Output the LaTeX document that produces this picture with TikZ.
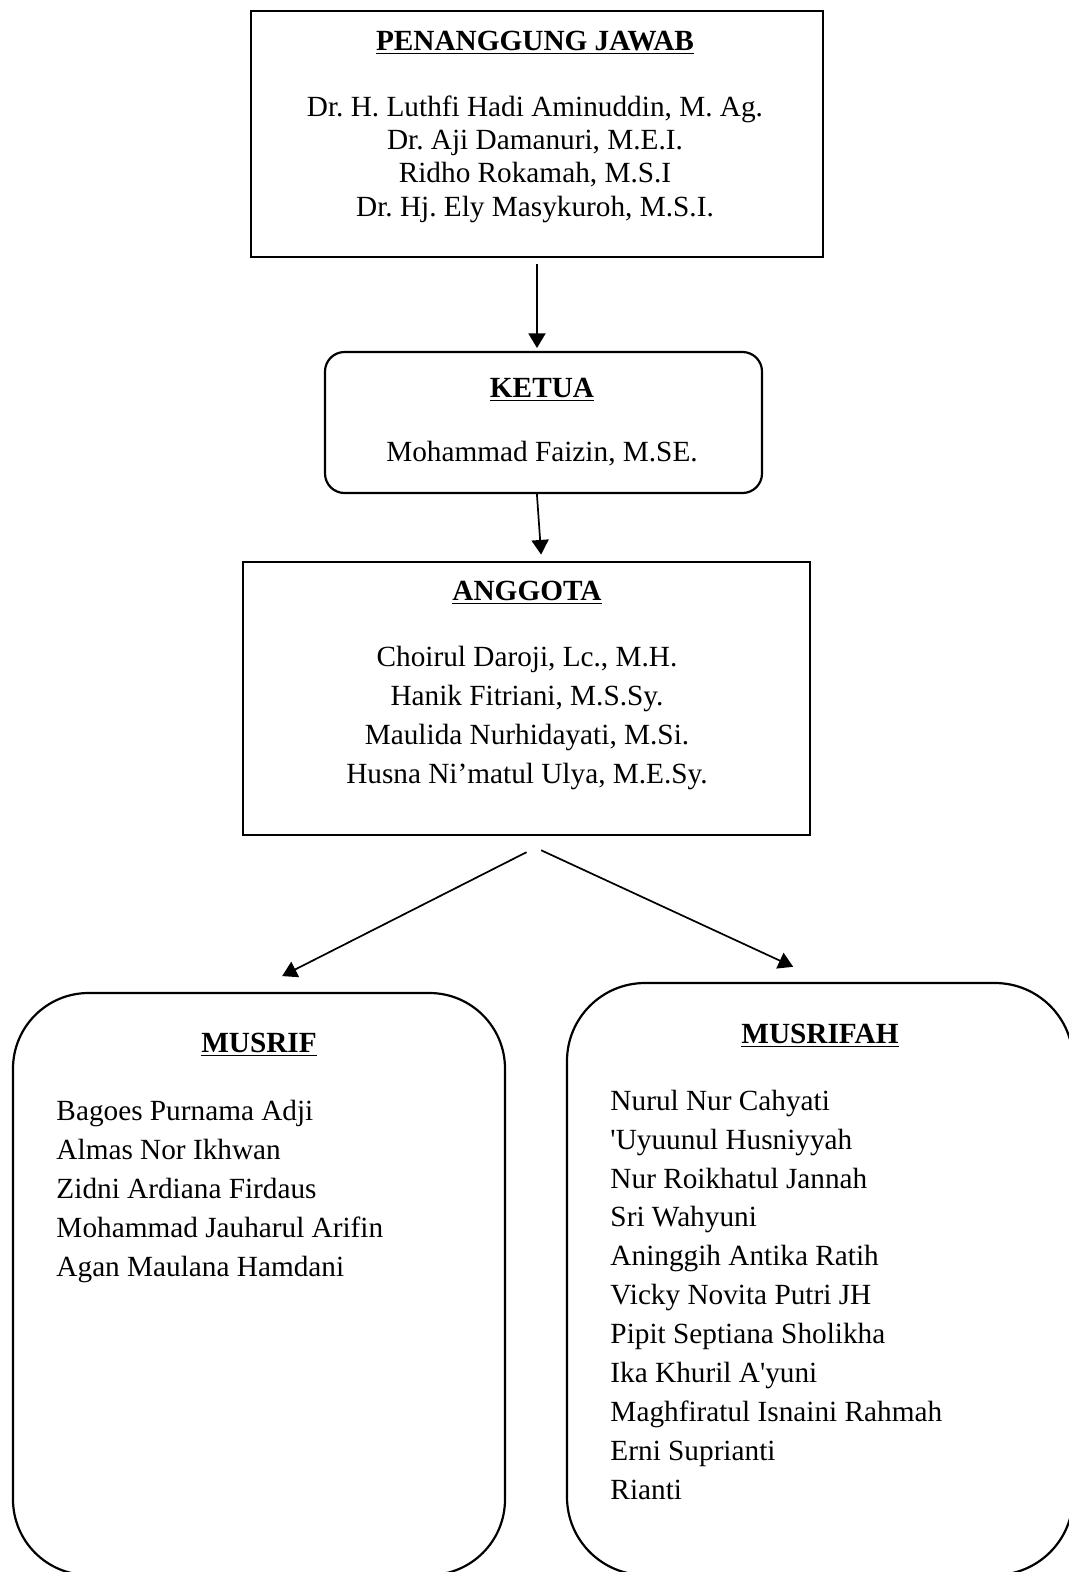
\documentclass[tikz,border=0pt]{standalone}
\usepackage{fontspec}
\setmainfont{Liberation Serif}
\usetikzlibrary{arrows.meta}
\newcommand{\pxu}{0.41pt}
\frenchspacing

\begin{document}
\begin{tikzpicture}[x=\pxu, y=-\pxu,
    arr/.style={-{Triangle[length=6pt,width=7pt]}, line width=0.7pt},
    txt/.style={inner sep=0pt, font=\fontsize{12}{14}\selectfont},
    head/.style={txt, anchor=base, font=\fontsize{12}{14}\selectfont\bfseries}]
    \useasboundingbox (0,0) rectangle (1068,1572);

    \begin{scope}[every node/.style={draw, inner sep=0pt}]
      \node[line width=1.1pt, minimum width={572*\pxu}, minimum height={246*\pxu}] (pj) at (537,134) {};
      \node[line width=0.9pt, rounded corners=8pt, minimum width={437*\pxu}, minimum height={141*\pxu}] (ketua) at (543.5,422.5) {};
      \node[line width=1.1pt, minimum width={567*\pxu}, minimum height={273*\pxu}] (anggota) at (526.5,698.5) {};
      \node[line width=0.9pt, rounded corners=31pt, minimum width={492*\pxu}, minimum height={582*\pxu}] (musrif) at (259,1284) {};
      \node[line width=0.9pt, rounded corners=32pt, minimum width={506*\pxu}, minimum height={592*\pxu}] (musrifah) at (820,1279) {};
    \end{scope}

    % judul
    \node[head] (pj-title) at (535,50) {\underline{PENANGGUNG JAWAB}};
    \node[head] (ketua-title) at (542,397) {\underline{KETUA}};
    \node[head] (anggota-title) at (527,600) {\underline{ANGGOTA}};
    \node[head] (musrif-title) at (259,1052) {\underline{MUSRIF}};
    \node[head] (musrifah-title) at (820,1043) {\underline{MUSRIFAH}};

    \begin{scope}[every node/.style={txt, anchor=base}]
      \node (pj1) at (535,116) {Dr. H. Luthfi Hadi Aminuddin, M. Ag.};
      \node (pj2) at (535,149) {Dr. Aji Damanuri, M.E.I.};
      \node (pj3) at (535,182) {Ridho Rokamah, M.S.I};
      \node (pj4) at (535,216) {Dr. Hj. Ely Masykuroh, M.S.I.};
      \node (ketua1) at (542,461) {Mohammad Faizin, M.SE.};
      \node (anggota1) at (527,666) {Choirul Daroji, Lc., M.H.};
      \node (anggota2) at (527,705) {Hanik Fitriani, M.S.Sy.};
      \node (anggota3) at (527,744) {Maulida Nurhidayati, M.Si.};
      \node (anggota4) at (527,783) {Husna Ni’matul Ulya, M.E.Sy.};
    \end{scope}

    \begin{scope}[every node/.style={txt, anchor=base west}]
      \node (musrif1) at (56,1120) {Bagoes Purnama Adji};
      \node (musrif2) at (56,1159) {Almas Nor Ikhwan};
      \node (musrif3) at (56,1198) {Zidni Ardiana Firdaus};
      \node (musrif4) at (56,1237) {Mohammad Jauharul Arifin};
      \node (musrif5) at (56,1276) {Agan Maulana Hamdani};
      \node (musrifah1) at (610,1110) {Nurul Nur Cahyati};
      \node (musrifah2) at (610,1149) {\textquotesingle Uyuunul Husniyyah};
      \node (musrifah3) at (610,1188) {Nur Roikhatul Jannah};
      \node (musrifah4) at (610,1226) {Sri Wahyuni};
      \node (musrifah5) at (610,1265) {Aninggih Antika Ratih};
      \node (musrifah6) at (610,1304) {Vicky Novita Putri JH};
      \node (musrifah7) at (610,1343) {Pipit Septiana Sholikha};
      \node (musrifah8) at (610,1382) {Ika Khuril A\textquotesingle yuni};
      \node (musrifah9) at (610,1421) {Maghfiratul Isnaini Rahmah};
      \node (musrifah10) at (610,1460) {Erni Suprianti};
      \node (musrifah11) at (610,1499) {Rianti};
    \end{scope}

    \draw[arr, shorten <=2.5pt, shorten >=1.2pt] (pj.south) -- (pj.south |- ketua.north);
    \draw[arr] ([xshift=-2.7pt]ketua.south) -- ([xshift=6pt, yshift=2.5pt]anggota.north);
    \draw[arr] ([yshift=-6.5pt]anggota.south) -- ([xshift=9.5pt, yshift=6.5pt]musrif.north);
    \draw[arr] ([xshift=6pt, yshift=-5.7pt]anggota.south) -- ([xshift=-11pt, yshift=6.2pt]musrifah.north);

  \end{tikzpicture}
\end{document}
